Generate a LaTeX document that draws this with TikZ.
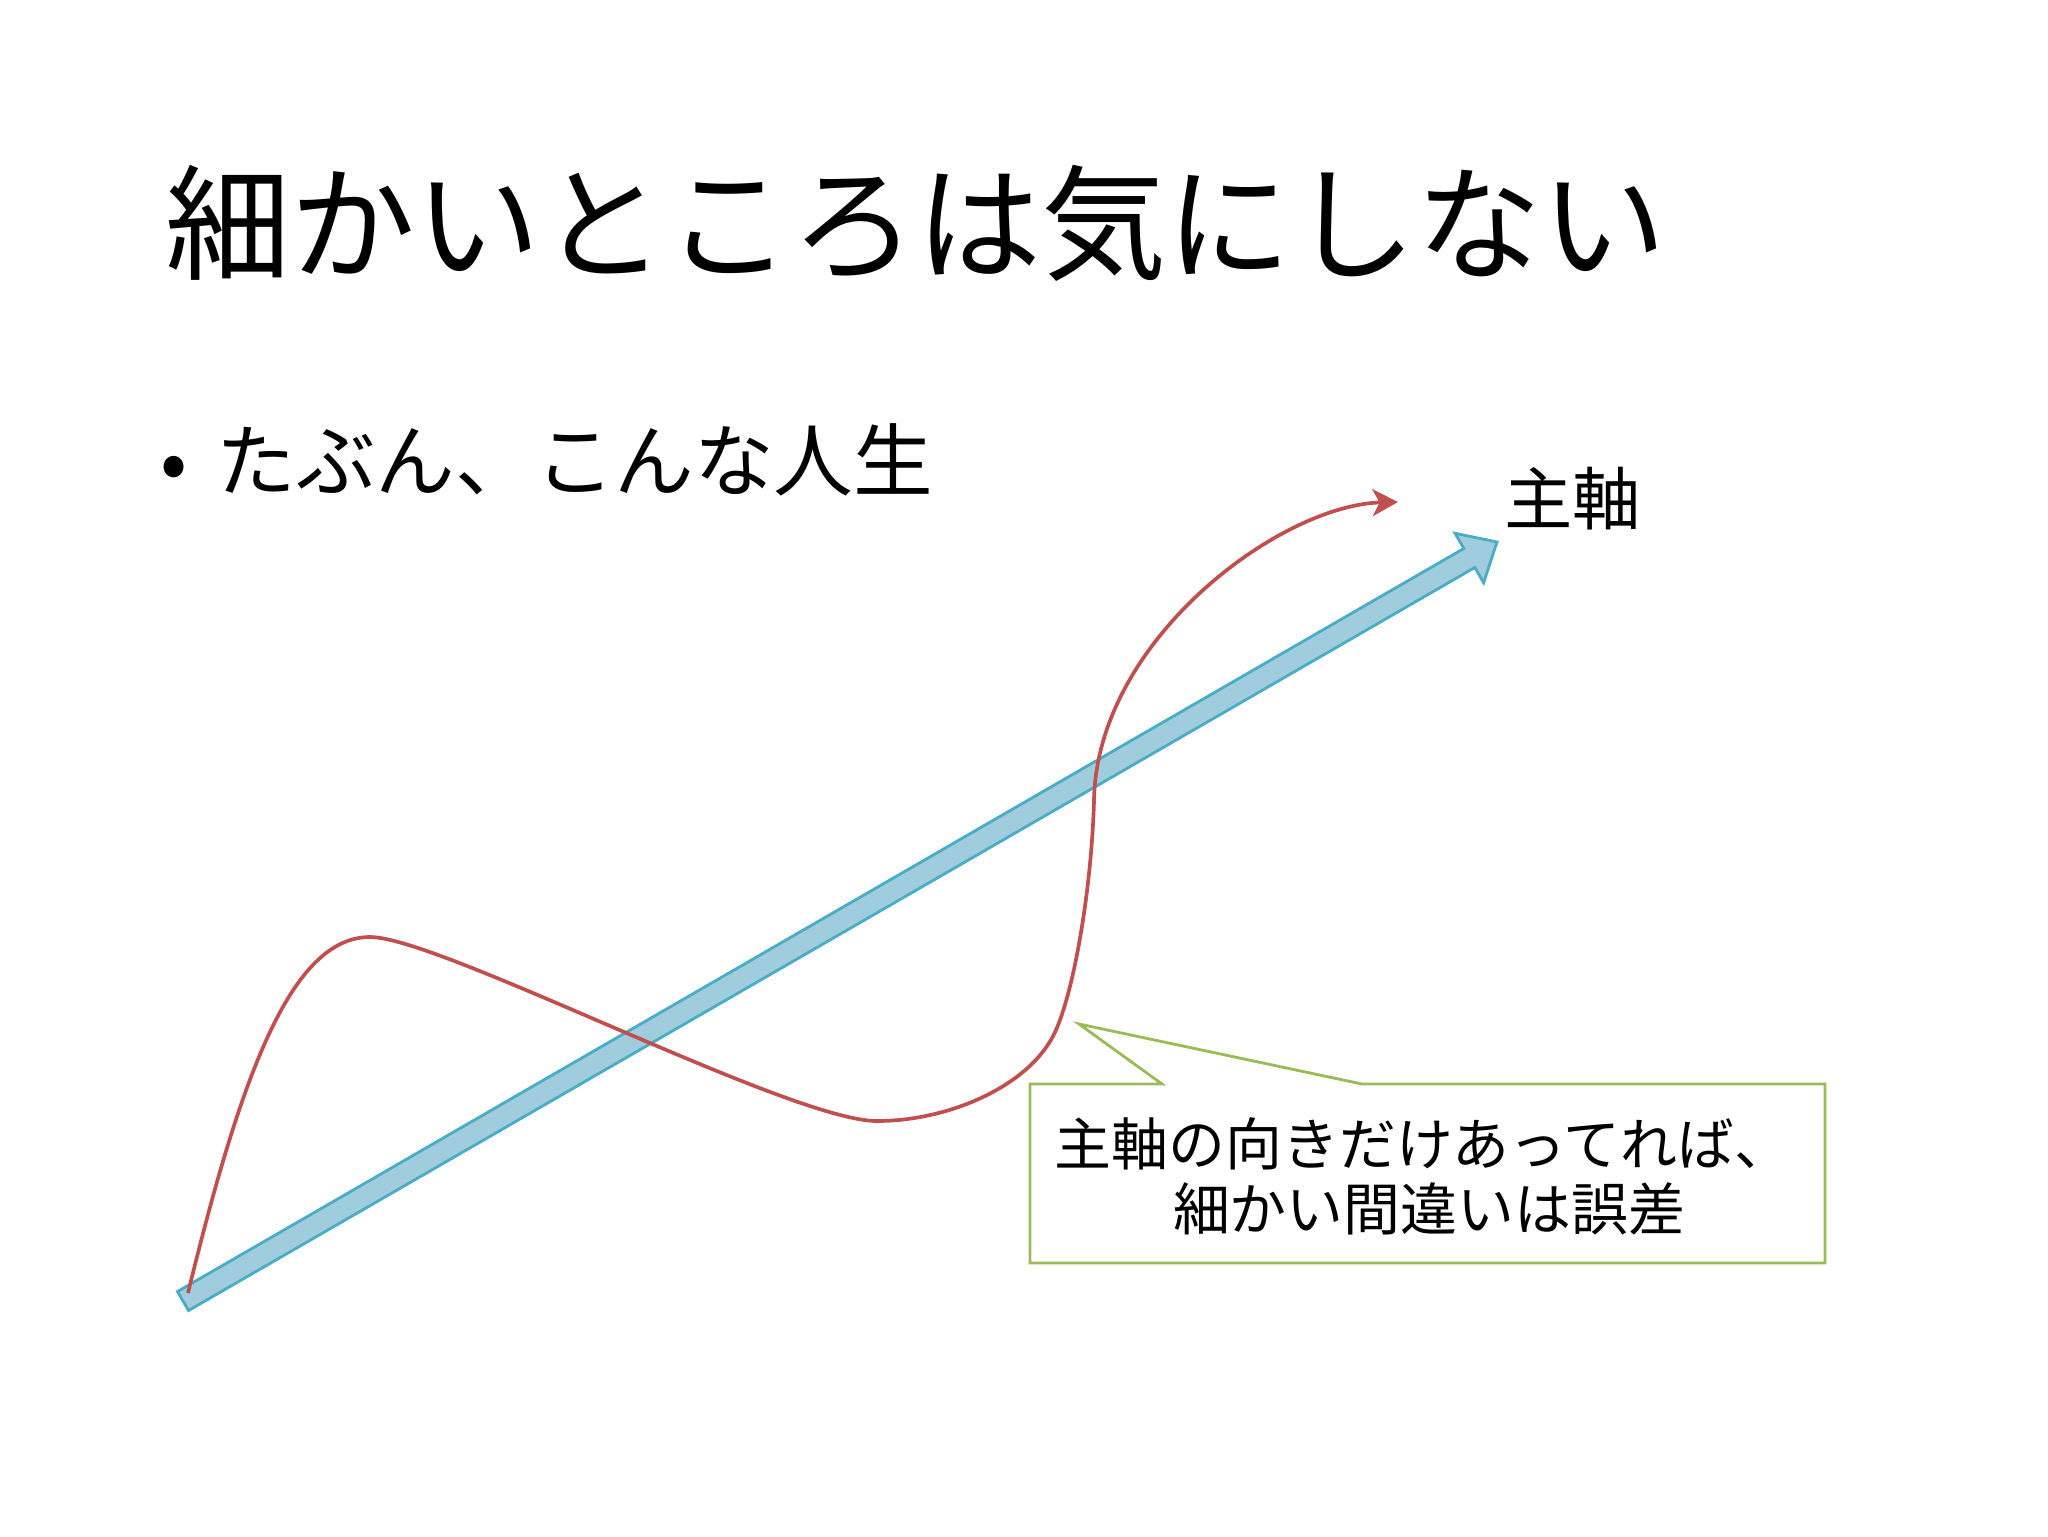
\documentclass[tikz,border=0pt]{standalone}
\usepackage{fontspec}
\setmainfont{Noto Sans CJK JP}
\usetikzlibrary{arrows.meta}
\definecolor{axisline}{RGB}{75,172,198}
\definecolor{axisfill}{RGB}{160,205,222}
\definecolor{lifered}{RGB}{192,80,77}
\definecolor{callgreen}{RGB}{155,187,89}
\tikzset{
  px/.style={x=0.0124023cm,y=-0.0124023cm},
  titletext/.style={inner sep=0pt,anchor=base west,font=\fontsize{44bp}{52bp}\selectfont},
  bullettext/.style={inner sep=0pt,anchor=base west,font=\fontsize{28bp}{34bp}\selectfont},
  labeltext/.style={inner sep=0pt,anchor=base west,font=\fontsize{24bp}{29bp}\selectfont},
  calltext/.style={inner sep=0pt,anchor=base,font=\fontsize{20bp}{24bp}\selectfont},
  axisarrow/.style={draw=axisline,fill=axisfill,line width=1pt,line join=miter},
  lifeline/.style={draw=lifered,line width=1.3pt,-{Stealth[length=9pt,width=9.5pt,inset=2.5pt]}},
  callbox/.style={draw=callgreen,fill=white,line width=1pt,line join=miter}
}
\begin{document}
\begin{tikzpicture}[px]
\useasboundingbox (0,0) rectangle (2048,1536);
\fill[white] (0,0) rectangle (2048,1536);
% title and bullet
\node[titletext] (title) at (165,270) {細かいところは気にしない};
\node[bullettext] (dot) at (160,490) {•};
\node[bullettext] (bullet) at (216,490) {たぶん、こんな人生};
% main axis arrow
\coordinate (ta) at (188.5,1310.5);
\coordinate (tb) at (177.5,1291.5);
\coordinate (sa) at (1463.8,548.5);
\coordinate (wa) at (1455.0,533.3);
\coordinate (tip) at (1497,542);
\coordinate (wb) at (1483.6,582.7);
\coordinate (sb) at (1474.8,567.5);
\draw[axisarrow] (tb) -- (sa) -- (wa) -- (tip) -- (wb) -- (sb) -- (ta) -- cycle;
\node[labeltext] (axislabel) at (1504,524) {主軸};
% life curve
\coordinate (lifestart) at (188,1293);
\coordinate (peak) at (370,937);
\coordinate (valley) at (877,1121);
\coordinate (turn) at (1056,1030);
\coordinate (rise) at (1094,800);
\coordinate (lifeend) at (1398,502);
\draw[lifeline] (lifestart) .. controls (240,1080) and (290,937) .. (peak)
 .. controls (440,937) and (790,1121) .. (valley)
 .. controls (950,1121) and (1032,1085) .. (turn)
 .. controls (1076,984) and (1092,880) .. (rise)
 .. controls (1097,640) and (1280,505) .. (lifeend);
% callout
\coordinate (ptr) at (1079,1024);
\draw[callbox] (1030,1084) -- (1162,1084) -- (ptr) -- (1362,1084) -- (1825,1084)
  -- (1825,1263) -- (1030,1263) -- cycle;
\node[calltext] (line1) at (1423,1165) {主軸の向きだけあってれば、};
\node[calltext] (line2) at (1429,1230) {細かい間違いは誤差};
\end{tikzpicture}
\end{document}
